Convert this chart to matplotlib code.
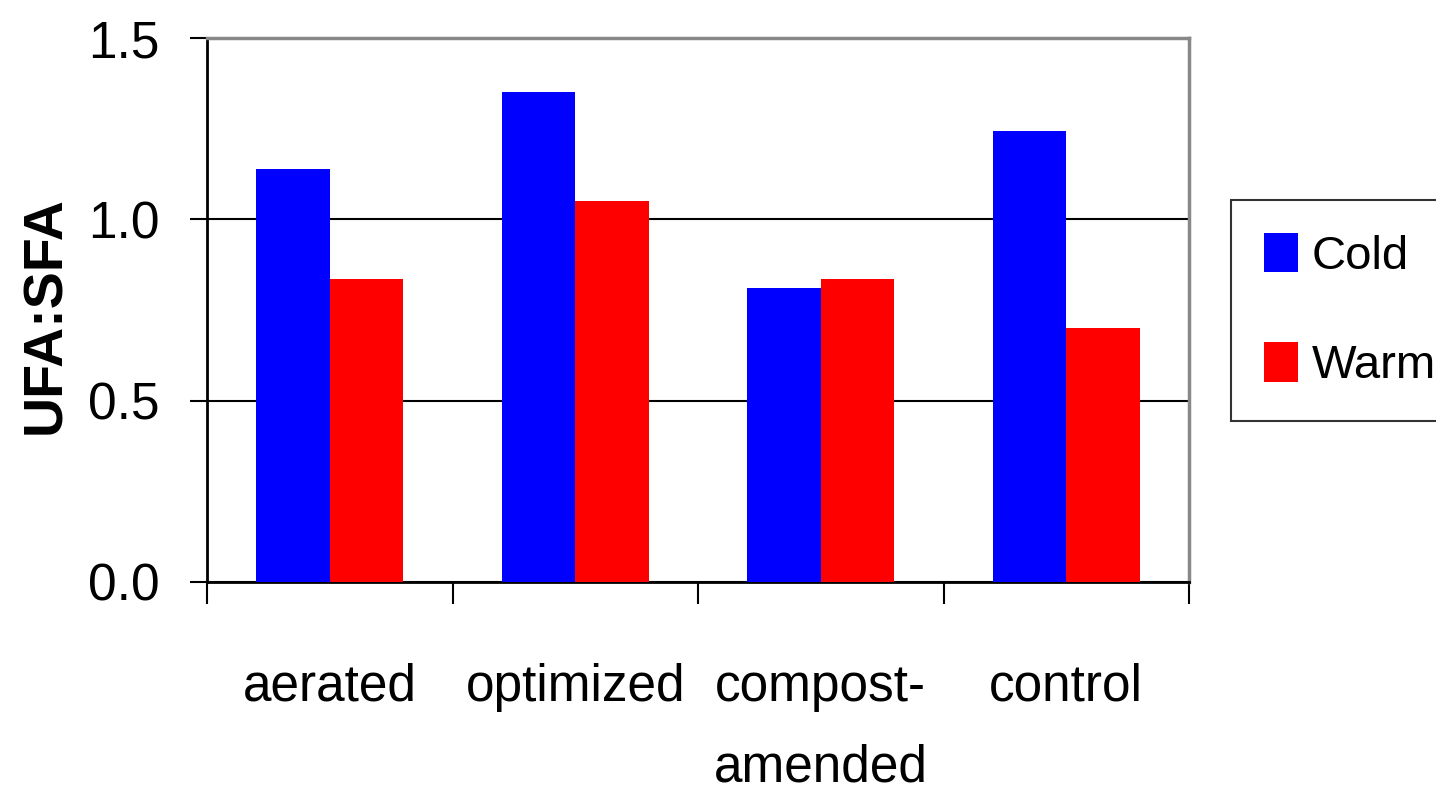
import matplotlib.pyplot as plt
import numpy as np

plt.rcParams['font.family'] = ['Liberation Sans', 'DejaVu Sans']

# Data
categories = ['aerated', 'optimized', 'compost-\namended', 'control']
cold = [1.14, 1.35, 0.81, 1.245]
warm = [0.835, 1.05, 0.835, 0.70]

fig = plt.figure(figsize=(14.36, 7.99), dpi=100)
ax = fig.add_axes([0.1442, 0.2716, 0.6838, 0.6808])

x = np.arange(len(categories))
w = 0.3
ax.bar(x - w / 2, cold, w, color='#0000ff', label='Cold', zorder=3)
ax.bar(x + w / 2, warm, w, color='#ff0000', label='Warm', zorder=3)

ax.set_xlim(-0.5, len(categories) - 0.5)
ax.set_ylim(0, 1.5)
ax.set_yticks([0.0, 0.5, 1.0, 1.5])
ax.set_yticklabels(['0.0', '0.5', '1.0', '1.5'])
ax.yaxis.grid(True, color='black', linewidth=1.5, zorder=0)

ax.set_xticks(x)
ax.set_xticklabels(categories, linespacing=1.85)
ax.set_xticks(np.arange(-0.5, len(categories), 1), minor=True)
ax.tick_params(axis='x', which='major', length=0, pad=58, labelsize=37)
ax.tick_params(axis='x', which='minor', length=16, width=1.5, direction='out')
ax.tick_params(axis='y', length=12, width=1.5, pad=22, labelsize=37)

for s in ['top', 'right']:
    ax.spines[s].set_color('#888888')
    ax.spines[s].set_linewidth(2.5)
for s in ['left', 'bottom']:
    ax.spines[s].set_color('black')
    ax.spines[s].set_linewidth(2)

ax.set_ylabel('UFA:SFA', fontsize=40, fontweight='bold')
ax.yaxis.set_label_coords(-0.137, 0.49)

leg = fig.legend(loc='upper left', bbox_to_anchor=(0.857, 0.750), borderaxespad=0,
                 fontsize=34, frameon=True, fancybox=False, edgecolor='black',
                 handlelength=0.72, handleheight=0.9, handletextpad=0.3,
                 labelspacing=1.35, borderpad=0.7)
leg.get_frame().set_linewidth(1.5)

fig.savefig('out.png', dpi=100)
